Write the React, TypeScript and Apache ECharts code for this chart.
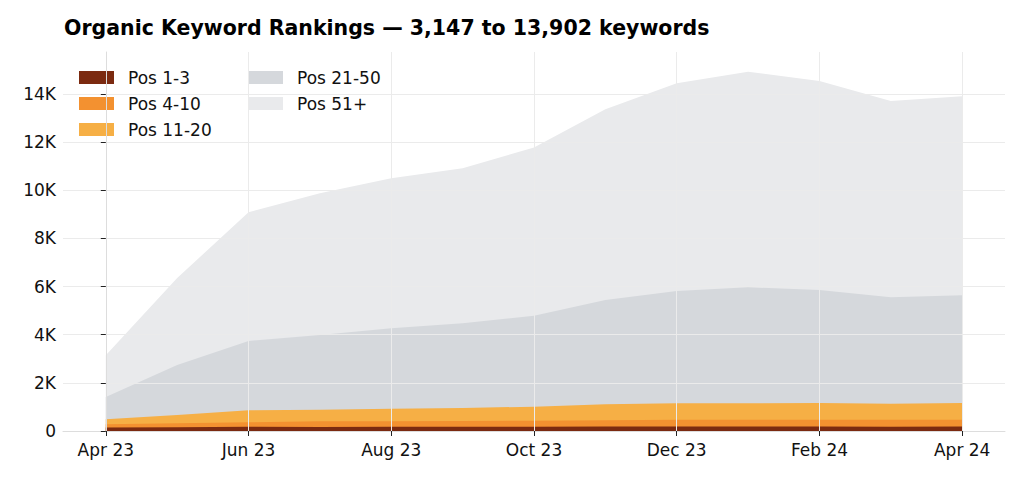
import React, { useEffect, useRef } from "react";
import * as echarts from "echarts";

const months = ["Apr 23","May 23","Jun 23","Jul 23","Aug 23","Sep 23","Oct 23","Nov 23","Dec 23","Jan 24","Feb 24","Mar 24","Apr 24"];
const tickIdx = [0, 2, 4, 6, 8, 10, 12];
const pos1_3 = [150, 160, 175, 170, 175, 178, 180, 182, 185, 185, 184, 180, 182];
const pos4_10 = [128, 160, 186, 230, 235, 242, 248, 268, 280, 285, 284, 285, 288];
const pos11_20 = [208, 345, 499, 485, 517, 540, 582, 659, 685, 680, 695, 671, 693];
const pos21_50 = [926, 2077, 2879, 3103, 3339, 3514, 3780, 4333, 4666, 4819, 4695, 4418, 4474];
const pos51 = [1735, 3614, 5346, 5887, 6232, 6440, 6990, 7923, 8629, 8960, 8683, 8156, 8265];

const seriesDefs = [
  { name: "Pos 1-3", data: pos1_3, color: "#7b2a10" },
  { name: "Pos 4-10", data: pos4_10, color: "#f39130" },
  { name: "Pos 11-20", data: pos11_20, color: "#f6af45" },
  { name: "Pos 21-50", data: pos21_50, color: "#d5d8dc" },
  { name: "Pos 51+", data: pos51, color: "#e9eaec" },
];

const FONT = "DejaVu Sans";

export default function App() {
  const ref = useRef<HTMLDivElement>(null);
  useEffect(() => {
    if (!ref.current) return;
    const chart = echarts.init(ref.current, null, { renderer: "svg" });
    // cumulative stacks (area of each layer fills down to zero, upper layers drawn first)
    const cum: number[][] = [];
    seriesDefs.forEach((s, k) => {
      cum.push(s.data.map((v, i) => v + (k > 0 ? cum[k - 1][i] : 0)));
    });
    const legendCommon = {
      orient: "vertical" as const,
      icon: "rect",
      itemWidth: 35,
      itemHeight: 13,
      itemGap: 9,
      textStyle: { fontFamily: FONT, fontSize: 17, color: "#111", lineHeight: 17, padding: [0, 0, 0, 9] },
      padding: 0,
      top: 69,
    };
    chart.setOption({
      animation: false,
      backgroundColor: "#fff",
      title: {
        text: "Organic Keyword Rankings — 3,147 to 13,902 keywords",
        left: 59,
        top: 12,
        textStyle: { fontFamily: FONT, fontSize: 20.5, fontWeight: "bold", color: "#000" },
      },
      legend: [
        { ...legendCommon, left: 79, data: ["Pos 1-3", "Pos 4-10", "Pos 11-20"] },
        { ...legendCommon, left: 248, data: ["Pos 21-50", "Pos 51+"] },
      ],
      grid: { left: 63, right: 19, top: 52, bottom: 47 },
      xAxis: {
        type: "value",
        min: -0.6,
        max: 12.6,
        z: 10,
        axisLine: { show: true, lineStyle: { color: "#dddddd", width: 1 } },
        axisTick: { show: true, length: 5, customValues: tickIdx, lineStyle: { color: "#222" } },
        axisLabel: {
          customValues: tickIdx,
          formatter: (v: number) => months[Math.round(v)] ?? "",
          fontFamily: FONT, fontSize: 17, color: "#111", margin: 10,
        },
        splitLine: { show: true, lineStyle: { color: "#ebebeb", width: 1 } },
      },
      yAxis: {
        type: "value",
        min: 0,
        max: 15745,
        interval: 2000,
        z: 10,
        axisLine: { show: true, lineStyle: { color: "#dddddd", width: 1 } },
        axisTick: { show: true, length: 5, lineStyle: { color: "#222" } },
        axisLabel: {
          showMaxLabel: false,
          formatter: (v: number) => (v === 0 ? "0" : v / 1000 + "K"),
          fontFamily: FONT, fontSize: 17, color: "#111", margin: 7,
        },
        splitLine: { show: true, showMaxLine: false, lineStyle: { color: "#ebebeb", width: 1 } },
      },
      series: seriesDefs.map((s, k) => ({
        name: s.name,
        type: "line",
        symbol: "none",
        data: cum[k].map((v, i) => [i, v]),
        lineStyle: { width: 0 },
        itemStyle: { color: s.color },
        areaStyle: { color: s.color, opacity: 1 },
        z: 2 + (seriesDefs.length - k) * 0.1,
      })),
    });
    return () => chart.dispose();
  }, []);
  return <div ref={ref} style={{ position: "fixed", left: 0, top: 0, width: 1024, height: 478 }} />;
}
